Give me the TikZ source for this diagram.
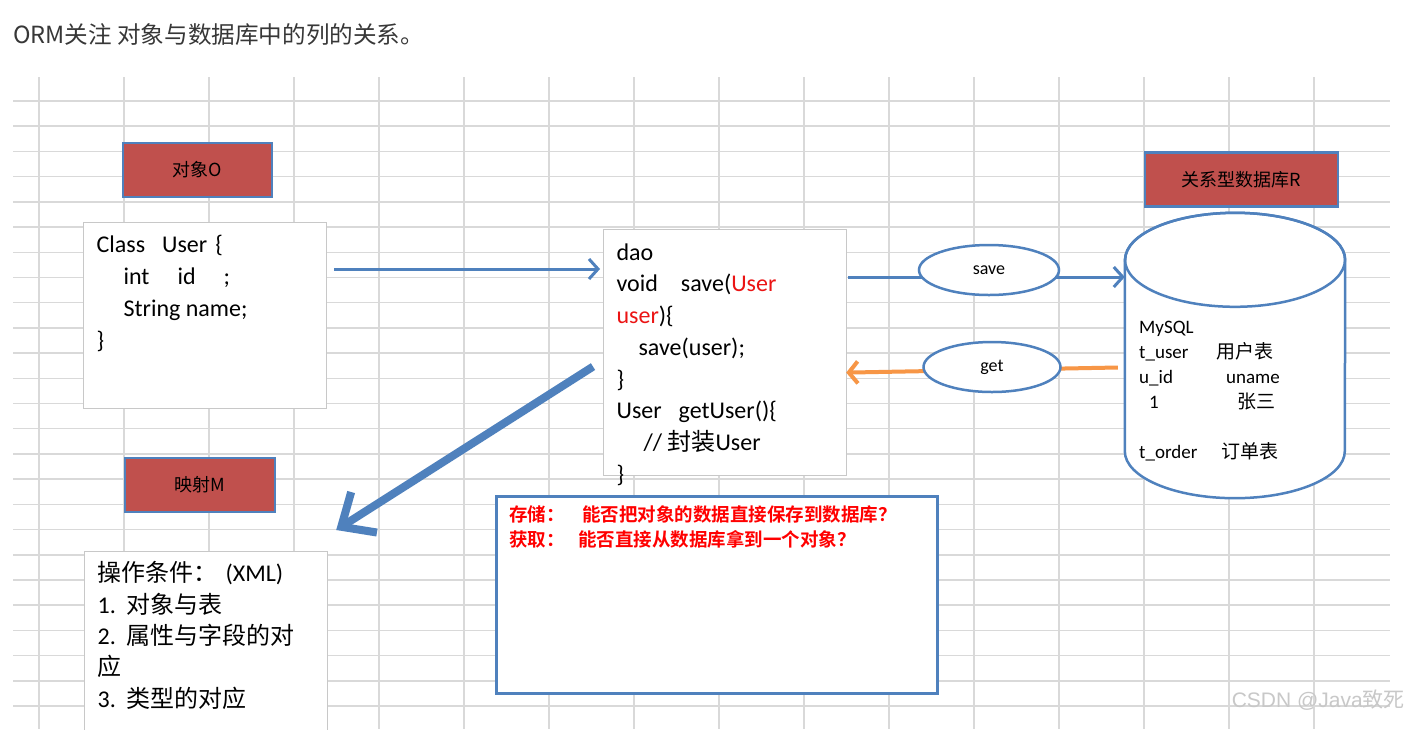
\documentclass[tikz,border=0pt]{standalone}
\usepackage{fontspec}
\usepackage{tikz}
\usetikzlibrary{arrows.meta,shapes.geometric,calc}
\setmainfont{Carlito}
\newfontfamily\cjk{Noto Sans CJK SC}
\newfontfamily\cjkb{Noto Sans CJK SC Bold}
\newfontfamily\arial{Liberation Sans}
\definecolor{ofblue}{RGB}{79,129,189}
\definecolor{ofred}{RGB}{192,80,77}
\definecolor{oforange}{RGB}{247,150,70}
\definecolor{gridgray}{RGB}{217,217,217}
\definecolor{boxgray}{RGB}{200,200,200}
\definecolor{titlegray}{RGB}{55,55,55}
\definecolor{codered}{RGB}{235,20,20}
\definecolor{wmgray}{RGB}{200,200,200}
\newcommand{\setfs}[2]{\fontsize{#1}{#2}\selectfont}
\newcommand{\codetext}[3]{\parbox[c][#2pt][t]{#1pt}{#3}}
\begin{document}
\begin{tikzpicture}[x=1pt,y=-1pt,
    gridline/.style={draw=gridgray,line width=1.5},
    redbox/.style={draw=ofblue,line width=2.5,fill=ofred,inner sep=0,font=\cjk\setfs{18}{18}},
    codebox/.style={draw=boxgray,line width=1.2,fill=white,anchor=north west,inner xsep=13,font=\setfs{24}{31.7}},
    oval/.style={ellipse,draw=ofblue,line width=2.5,fill=white,inner sep=0,font=\setfs{18}{18}},
    thinarrow/.style={draw=ofblue,line width=3,-{Straight Barb[length=9pt,width=20pt]}},
    getarrow/.style={draw=oforange,line width=4,-{Straight Barb[length=9pt,width=22pt]}},
    bigarrow/.style={draw=ofblue,line width=8,-{Straight Barb[length=27pt,width=48pt]}}]
  \useasboundingbox (0,0) rectangle (1411,729);
  \fill[white] (0,0) rectangle (1411,729);
  \foreach \i in {0,...,15}
    \draw[gridline] (39+85*\i,77) -- (39+85*\i,729);
  \foreach \j in {0,...,24}
    \draw[gridline] (13,101+25.21*\j) -- (1390,101+25.21*\j);
  \node[anchor=base west,inner sep=0,text=titlegray,font=\cjk\setfs{23.6}{23.6}] (title) at (13,43) {ORM关注 对象与数据库中的列的关系。};
  \node[redbox,minimum width=149,minimum height=54] (obj) at (197.5,170) {对象O};
  \node[redbox,minimum width=150,minimum height=54] (map) at (200,485) {映射M};
  \node[redbox,minimum width=193,minimum height=54] (rdb) at (1241.5,179.5) {关系型数据库R};
  \node[codebox,inner ysep=13] (cls) at (83,222) {\codetext{217}{160}{%
    Class\hspace{17pt}User\hspace{8pt}\{\\
    \hspace*{27pt}int\hspace{28pt}id\hspace{28pt};\\
    \hspace*{27pt}String name;\\
    \}}};
  \node[codebox,inner ysep=14] (dao) at (603,229) {\codetext{217}{218}{%
    dao\\
    void\hspace{23pt}save({\color{codered}User}\\
    {\color{codered}user})\{\\
    \hspace*{22pt}save(user);\\
    \}\\
    User\hspace{17pt}getUser()\{\\
    \hspace*{27pt}// {\cjk 封装}User\\
    \}}};
  \node[codebox,inner ysep=10,font=\setfs{24}{31.3}] (ops) at (84,551) {\codetext{217}{180}{%
    {\cjk 操作条件：}\hspace{8pt}(XML)\\
    1.\hspace{11pt}{\cjk 对象与表}\\
    2.\hspace{11pt}{\cjk 属性与字段的对}\\
    {\cjk 应}\\
    3.\hspace{11pt}{\cjk 类型的对应}}};
  \node[draw=ofblue,line width=2.5,fill=white,anchor=north west,inner xsep=13,inner ysep=9,
    text=red,font=\cjkb\setfs{18.5}{25}] (ask) at (495,495) {\codetext{415}{179}{%
    存储：\hspace{17.5pt}能否把对象的数据直接保存到数据库？\\
    获取：\hspace{13.5pt}能否直接从数据库拿到一个对象？}};
  \node[minimum width=220,minimum height=285,inner sep=0] (db) at (1235,355.5) {};
  \draw[ofblue,line width=2.5,fill=white] ([yshift=-47pt]db.north west) -- ([yshift=47pt]db.south west)
    arc[start angle=180,end angle=360,x radius=110pt,y radius=47pt] -- ([yshift=-47pt]db.north east)
    arc[start angle=0,end angle=180,x radius=110pt,y radius=47pt] -- cycle;
  \draw[ofblue,line width=2.5] ([yshift=-47pt]db.north) ellipse [x radius=110pt,y radius=47pt];
  \node[anchor=base west,inner sep=0,font=\setfs{19}{25}] (dbtxt) at (1139,333) {\parbox[t]{200pt}{%
    MySQL\\
    \makebox[77pt][l]{t\_user}{\cjk 用户表}\\
    \makebox[87pt][l]{u\_id}uname\\
    \makebox[98pt][l]{\hspace*{10pt}1}{\cjk 张三}\\
    \mbox{}\\
    \makebox[82pt][l]{t\_order}{\cjk 订单表}}};
  \coordinate (s1) at ($(dao.north east)+(1,48)$);
  \draw[thinarrow] ($(cls.north east)+(7,47)$) -- ($(dao.north west)+(-3,40)$);
  \draw[thinarrow] (s1) -- (s1 -| db.west);
  \node[oval,minimum width=140,minimum height=50] (save) at (989,270) {save};
  \draw[getarrow] ($(db.west)+(-7,12)$) -- ($(dao.east)+(-1,20)$);
  \node[oval,minimum width=137,minimum height=50] (get) at (992,367) {get};
  \draw[bigarrow] ($(dao.west)+(-10,14)$) -- ($(ops.north east)+(8,-21)$);
  \node[anchor=base east,inner sep=0,text=wmgray,font=\arial\setfs{21}{21}] (wm) at (1405,707) {CSDN @Java{\cjk 致死}};
\end{tikzpicture}
\end{document}
